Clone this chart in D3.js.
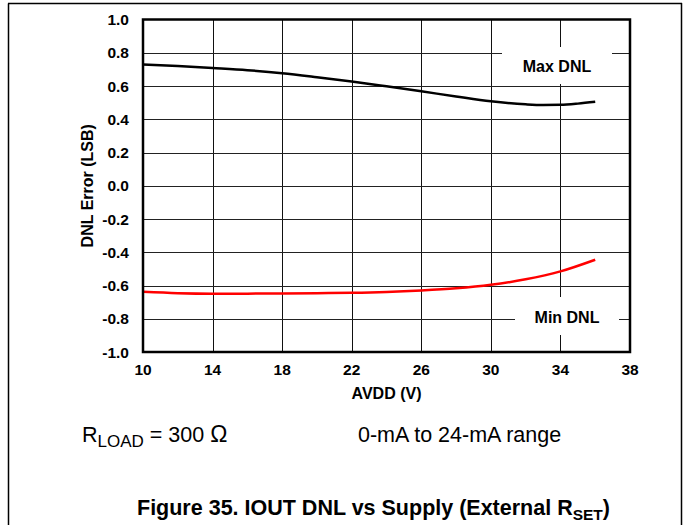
<!DOCTYPE html>
<html><head><meta charset="utf-8">
<script src="https://cdn.jsdelivr.net/npm/d3@7"></script>
<style>
html,body{margin:0;padding:0;background:#fff;}
svg{display:block;font-family:"Liberation Sans",Arial,sans-serif;}
</style></head>
<body>
<svg id="c" width="683" height="525"></svg>
<script>
const avdd = [10,12,14,16,18,20,22,24,26,28,30,32,33,34,35,36];
const maxDNL = [0.730,0.720,0.708,0.695,0.677,0.653,0.627,0.598,0.568,0.537,0.508,0.490,0.486,0.487,0.494,0.505];
const minAvdd = [10,12,14,16,18,20,22,24,26,28,30,32,34,36];
const minDNL = [-0.638,-0.646,-0.649,-0.649,-0.648,-0.646,-0.644,-0.639,-0.630,-0.617,-0.596,-0.563,-0.515,-0.445];
const xTicks = [10,14,18,22,26,30,34,38];
const yTicks = [-1.0,-0.8,-0.6,-0.4,-0.2,0.0,0.2,0.4,0.6,0.8,1.0];

const svg = d3.select("#c");
const L = 143, R = 630, T = 19.5, B = 352;
const x = d3.scaleLinear().domain([10,38]).range([L,R]);
const y = d3.scaleLinear().domain([-1,1]).range([B,T]);

// outer frame
svg.append("line").attr("x1",8.5).attr("x2",8.5).attr("y1",3.5).attr("y2",525).attr("stroke","#000").attr("stroke-width",1.5);
svg.append("line").attr("x1",8).attr("x2",682).attr("y1",3.5).attr("y2",3.5).attr("stroke","#000").attr("stroke-width",1.5);
svg.append("line").attr("x1",681.5).attr("x2",681.5).attr("y1",3).attr("y2",525).attr("stroke","#000").attr("stroke-width",1.5);

// grid
const g = svg.append("g");
g.selectAll(".vg").data(xTicks.slice(1,-1)).enter().append("line")
 .attr("x1",d=>Math.round(x(d))+0.5).attr("x2",d=>Math.round(x(d))+0.5)
 .attr("y1",T).attr("y2",B).attr("stroke","#111").attr("stroke-width",1);
g.selectAll(".hg").data(yTicks.slice(1,-1)).enter().append("line")
 .attr("x1",L).attr("x2",R)
 .attr("y1",d=>Math.round(y(d))+0.5).attr("y2",d=>Math.round(y(d))+0.5)
 .attr("stroke","#222").attr("stroke-width",1);

// label boxes (white) covering grid
svg.append("rect").attr("x",502).attr("y",47).attr("width",110).attr("height",37).attr("fill","#fff");
svg.append("rect").attr("x",515).attr("y",297).attr("width",104).attr("height",38).attr("fill","#fff");

// curves
const line = d3.line().curve(d3.curveMonotoneX);
svg.append("path").attr("d",line(avdd.map((v,i)=>[x(v),y(maxDNL[i])])))
 .attr("fill","none").attr("stroke","#000").attr("stroke-width",2.5);
svg.append("path").attr("d",line(minAvdd.map((v,i)=>[x(v),y(minDNL[i])])))
 .attr("fill","none").attr("stroke","#ff0000").attr("stroke-width",2.5);

// plot frame
svg.append("rect").attr("x",L).attr("y",T).attr("width",R-L).attr("height",B-T)
 .attr("fill","none").attr("stroke","#000").attr("stroke-width",2.5);

// axes labels
svg.selectAll(".yt").data(yTicks).enter().append("text")
 .attr("x",129).attr("y",d=>y(d)).attr("dy","0.36em").attr("text-anchor","end")
 .attr("font-size",15.5).attr("font-weight","bold").text(d=>d3.format(".1f")(d).replace("−","-"));
svg.selectAll(".xt").data(xTicks).enter().append("text")
 .attr("x",d=>x(d)).attr("y",375).attr("text-anchor","middle")
 .attr("font-size",15.5).attr("font-weight","bold").text(d=>d);
svg.append("text").attr("x",(L+R)/2).attr("y",399).attr("text-anchor","middle")
 .attr("font-size",16).attr("font-weight","bold").text("AVDD (V)");
svg.append("text").attr("transform",`translate(92.5,${(T+B)/2}) rotate(-90)`).attr("text-anchor","middle")
 .attr("font-size",16).attr("font-weight","bold").text("DNL Error (LSB)");

svg.append("text").attr("x",557).attr("y",66).attr("dy","0.36em").attr("text-anchor","middle")
 .attr("font-size",16).attr("font-weight","bold").text("Max DNL");
svg.append("text").attr("x",567).attr("y",317).attr("dy","0.36em").attr("text-anchor","middle")
 .attr("font-size",16).attr("font-weight","bold").text("Min DNL");

// notes
const n1 = svg.append("text").attr("x",82).attr("y",442).attr("font-size",21.5);
n1.append("tspan").text("R");
n1.append("tspan").attr("font-size",17).attr("dy",5).text("LOAD");
n1.append("tspan").attr("dy",-5).text(" = 300 ");
n1.append("tspan").attr("font-size",23).text("Ω");
svg.append("text").attr("x",358).attr("y",442).attr("font-size",21.5).text("0-mA to 24-mA range");

const t = svg.append("text").attr("x",137).attr("y",515).attr("font-size",21.5).attr("font-weight","bold");
t.append("tspan").text("Figure 35. IOUT DNL vs Supply (External R");
t.append("tspan").attr("font-size",15.5).attr("dy",5).text("SET");
t.append("tspan").attr("dy",-5).text(")");
</script>
</body></html>
